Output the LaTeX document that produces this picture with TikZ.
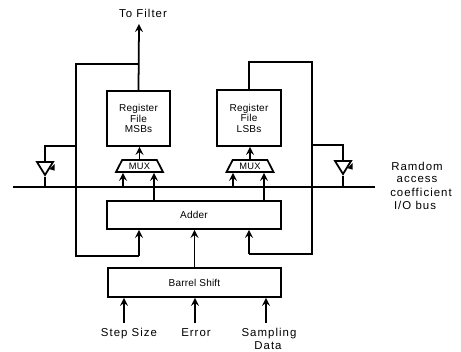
\documentclass[tikz,border=0pt]{standalone}
\usepackage{fontspec}
\setmainfont{Liberation Sans}
\newfontfamily\widefont[LetterSpace=9]{Liberation Sans}
\newfontfamily\blockfont[LetterSpace=2]{Liberation Sans}
\usetikzlibrary{calc,shapes.geometric}
\tikzset{
  wire/.style={line width=1pt},
  block/.style={draw,wire,inner sep=0pt,font=\blockfont\fontsize{5.7}{6}\selectfont,align=center},
  muxbox/.style={draw,wire,trapezium,trapezium left angle=60,trapezium right angle=60,trapezium stretches=true,minimum width=0.94cm,minimum height=0.24cm,inner sep=0pt,font=\blockfont\fontsize{5.3}{6}\selectfont},
  buffer/.style={draw,wire,isosceles triangle,isosceles triangle stretches=true,shape border rotate=270,minimum width=0.32cm,minimum height=0.26cm,inner sep=0pt},
  label/.style={font=\widefont\fontsize{6.5}{7}\selectfont,inner sep=0pt}
}
\begin{document}
\begin{tikzpicture}[>=stealth]
  \useasboundingbox (0,0) rectangle (9.22,7.02);
  % blocks
  \node[block,minimum width=1.26cm,minimum height=1.1cm] (msb) at (2.77,4.65) {Register\\File\\MSBs};
  \node[block,minimum width=1.28cm,minimum height=1.12cm] (lsb) at (4.98,4.66) {Register\\File\\LSBs};
  \node[muxbox] (muxa) at (2.79,3.70) {MUX};
  \node[muxbox] (muxb) at (5,3.70) {MUX};
  \node[block,minimum width=3.48cm,minimum height=0.56cm] (adder) at (3.88,2.72) {Adder};
  \node[block,minimum width=3.46cm,minimum height=0.58cm] (barrel) at (3.89,1.37) {Barrel Shift};
  \node[buffer] (bufa) at (0.9,3.69) {};
  \node[buffer] (bufb) at (6.86,3.71) {};
  % bus
  \coordinate (busl) at (0.26,3.28);
  \coordinate (busr) at (7.5,3.28);
  \draw[line width=1.2pt] (busl) -- (busr);
  % labels
  \node[label] (filter) at (2.86,6.76) {To Filter};
  \node[label] (step) at (2.58,0.34) {Step Size};
  \node[label] (error) at (3.92,0.36) {Error};
  \node[label] (sampling) at (5.38,0.34) {Sampling};
  \node[label] (data) at (5.36,0.1) {Data};
  \node[label] (ramdom) at (8.34,3.7) {Ramdom};
  \node[label] (access) at (8.34,3.44) {access};
  \node[label] (coeff) at (8.42,3.18) {coefficient};
  \node[label] (iobus) at (8.3,2.92) {I/O bus};
  % outputs of the registers
  \coordinate (top) at (2.78,6.54);
  \draw[wire,->] (msb.north) -- (top);
  \coordinate (loopa) at (1.52,5.74);
  \coordinate (loopb) at (1.52,1.9);
  \coordinate (loopc) at (2.78,1.9);
  \draw[wire] (msb.north |- loopa) -- (loopa) -- (loopb) -- (loopc);
  \draw[wire,->] (loopc) -- (loopc |- adder.south);
  \coordinate (loopd) at (4.98,5.78);
  \coordinate (loope) at (6.24,5.78);
  \coordinate (loopf) at (6.24,1.94);
  \coordinate (loopg) at (4.98,1.94);
  \draw[wire] (lsb.north) -- (loopd) -- (loope) -- (loopf) -- (loopg);
  \draw[wire,->] (loopg) -- (loopg |- adder.south);
  % buffers
  \coordinate (tapa) at (1.52,4.1);
  \coordinate (tapb) at (6.24,4.12);
  \draw[wire] (tapa) -- (tapa -| bufa.lower side) -- (bufa.lower side);
  \draw[wire] (bufa.apex) -- (bufa.apex |- busl);
  \draw[wire] (tapb) -- (tapb -| bufb.lower side) -- (bufb.lower side);
  \draw[wire] (bufb.apex) -- (bufb.apex |- busl);
  \fill ($(bufa.lower side)+(0.19,-0.06)$) -- ++(0,-0.13) -- ++(-0.1,0.03) -- cycle;
  \fill ($(bufb.lower side)+(0.19,-0.06)$) -- ++(0,-0.13) -- ++(-0.1,0.03) -- cycle;
  % mux connections
  \draw[wire,->] (muxa.north) -- (muxa.north |- msb.south);
  \draw[wire,->] (muxb.north) -- (muxb.north |- lsb.south);
  \coordinate (ina) at (2.46,3.28);
  \coordinate (inb) at (4.66,3.28);
  \coordinate (inc) at (3.08,3);
  \coordinate (ind) at (5.28,3);
  \draw[wire,->] (ina) -- (ina |- muxa.south);
  \draw[wire,->] (inb) -- (inb |- muxb.south);
  \draw[wire,->] (inc) -- (inc |- muxa.south);
  \draw[wire,->] (ind) -- (ind |- muxb.south);
  % barrel shift
  \draw[wire,->] (barrel.north) -- (barrel.north |- adder.south);
  \coordinate (stepin) at (2.48,0.56);
  \coordinate (errorin) at (3.9,0.56);
  \coordinate (datain) at (5.32,0.56);
  \draw[wire,->] (stepin) -- (stepin |- barrel.south);
  \draw[wire,->] (errorin) -- (errorin |- barrel.south);
  \draw[wire,->] (datain) -- (datain |- barrel.south);
\end{tikzpicture}
\end{document}
